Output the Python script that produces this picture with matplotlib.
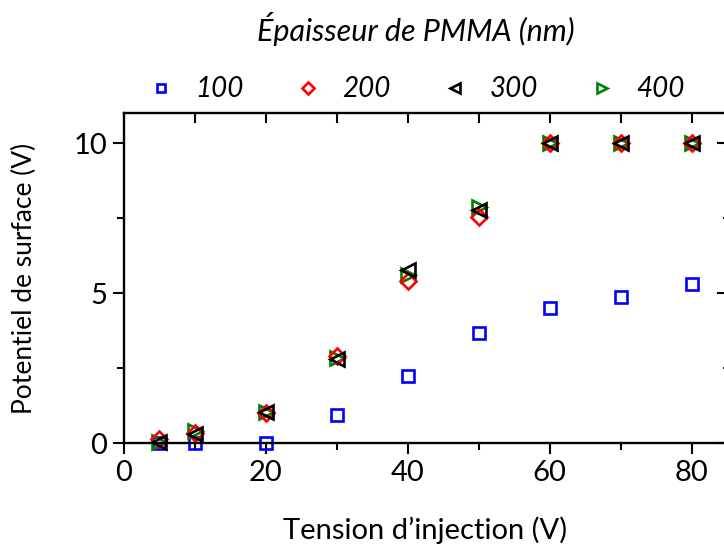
import numpy as np
import matplotlib
matplotlib.use('Agg')
import matplotlib.pyplot as plt
from matplotlib.ticker import MultipleLocator

# --- données ---
tension = [5, 10, 20, 30, 40, 50, 60, 70, 80]
ep_labels = ['100', '200', '300', '400']
pot_100 = [0.0, 0.0, 0.0, 0.93, 2.24, 3.66, 4.50, 4.88, 5.30]
pot_200 = [0.12, 0.35, 1.0, 2.9, 5.39, 7.52, 10.0, 10.0, 10.0]
pot_300 = [0.05, 0.3, 1.03, 2.79, 5.78, 7.78, 10.0, 10.0, 10.0]
pot_400 = [0.05, 0.4, 1.05, 2.85, 5.61, 7.88, 10.0, 10.0, 10.0]

plt.rcParams['font.family'] = ['Lato', 'DejaVu Sans']

fig = plt.figure(figsize=(7.24, 5.49), dpi=100)
ax = fig.add_axes([124/724, 1-443/549, (727-124)/724, (443-113)/549])

styles = [('s', 'blue', 8.5), ('D', 'red', 8), ('<', 'black', 9.5), ('>', 'green', 9.5)]
series = [pot_100, pot_200, pot_300, pot_400]
draw_order = [0, 3, 1, 2]
handles = [None] * 4
for i in draw_order:
    m, c, ms = styles[i]
    h, = ax.plot(tension, series[i], linestyle='none', marker=m, markersize=ms,
                 markerfacecolor='none', markeredgecolor=c, markeredgewidth=1.9,
                 clip_on=False, label=ep_labels[i])
    handles[i] = h

ax.set_xlim(0, 85)
ax.set_ylim(0, 11)
ax.xaxis.set_major_locator(MultipleLocator(20))
ax.xaxis.set_minor_locator(MultipleLocator(10))
ax.yaxis.set_major_locator(MultipleLocator(5))
ax.yaxis.set_minor_locator(MultipleLocator(2.5))
for s in ax.spines.values():
    s.set_linewidth(1.7)
ax.tick_params(which='major', direction='out', length=8, width=1.5, labelsize=21, pad=4)
ax.tick_params(which='minor', direction='out', length=5, width=1.5)

# graduations intérieures en haut et à droite
top = ax.secondary_xaxis('top')
top.set_xticks(np.arange(10, 81, 10))
top.tick_params(direction='in', length=7, width=1.5, labeltop=False)
top.spines['top'].set_visible(False)
right = ax.secondary_yaxis('right')
right.set_yticks([0, 5, 10])
right.yaxis.set_minor_locator(MultipleLocator(2.5))
right.tick_params(which='major', direction='in', length=7, width=1.5, labelright=False)
right.tick_params(which='minor', direction='in', length=3, width=1.5)
right.spines['right'].set_visible(False)

ax.set_xlabel('Tension d\u2019injection (V)', fontsize=21, labelpad=22)
ax.set_ylabel('Potentiel de surface (V)', fontsize=19, labelpad=26)

leg = fig.legend(handles=handles, labels=ep_labels, ncol=4, loc='center',
                 bbox_to_anchor=(416/724, 1-57/549), frameon=False,
                 title='\u00c9paisseur de PMMA (nm)', markerscale=0.75,
                 handlelength=1.0, handletextpad=0.75, columnspacing=1.8,
                 prop={'style': 'italic', 'size': 20},
                 title_fontproperties={'style': 'italic', 'size': 22})
leg._legend_box.sep = 22

fig.savefig('out.png', dpi=100)
